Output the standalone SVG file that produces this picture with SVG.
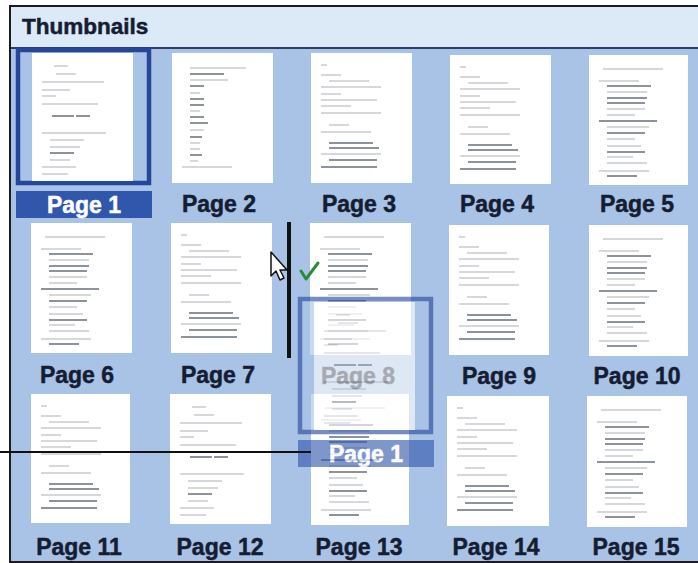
<svg xmlns="http://www.w3.org/2000/svg" width="698" height="563" viewBox="0 0 698 563">
<style>
.lbl{font-family:"Liberation Sans",Arial,sans-serif;font-weight:bold;font-size:23px;fill:#151d33;stroke:#151d33;stroke-width:0.5;text-anchor:middle}
.pg{fill:#ffffff}
.l{fill:none;stroke:#c9ccd1;stroke-width:1.3}
.d{fill:none;stroke:#8d939c;stroke-width:2}
</style>
<defs>
<g id="cA">
<path class="l" d="M22 13h14M24 21h20M10 29h62M10 37h28M10 43h14M10 51h56M10 80h64M18 87h34M18 94h30M18 107h20M10 114h34M10 121h26"/>
<path class="d" d="M20 63h22M44 63h14M18 100h24"/>
</g>
<g id="cB">
<path class="l" d="M18 15h56M18 27h38M18 40h10M18 58h10M18 77h14M18 90h10M18 96h10M18 108h8M10 114h50"/>
<path class="d" d="M18 21h34M18 33h14M18 46h14M18 52h14M18 64h14M18 70h18M18 84h12M18 102h12"/>
</g>
<g id="cC">
<path class="l" d="M14 14h60M10 26h40M18 37h40M18 54h38M18 60h28M18 72h42M18 84h28M18 91h34M18 102h26M18 108h40M10 116h50"/>
<path class="d" d="M18 31h44M18 43h40M18 48h38M10 66h58M18 78h38M18 97h38M18 121h30"/>
</g>
<g id="cD">
<path class="l" d="M10 12h6M10 22h20M18 28h40M10 34h60M10 41h20M10 47h56M10 53h30M10 60h60M18 72h20M10 79h50M10 101h60"/>
<path class="d" d="M18 90h44M18 95h50M18 107h48M10 114h56"/>
</g>
</defs>
<rect width="698" height="563" fill="#ffffff"/>
<rect x="10" y="6" width="700" height="556" fill="#a9c3e7" stroke="#1c1c1c" stroke-width="2"/>
<rect x="11" y="7" width="690" height="41" fill="#dce9f6"/>
<line x1="11" y1="48" x2="698" y2="48" stroke="#2b3e6b" stroke-width="2"/>
<text x="22" y="34" class="lbl" style="text-anchor:start;font-size:22.5px">Thumbnails</text>

<g id="page-1">
<rect x="18" y="50" width="131" height="133" fill="#a9c3e7" stroke="#26469a" stroke-width="4.5"/>
<rect x="32" y="53" width="101" height="128" class="pg"/>
<use href="#cA" x="32" y="53"/>
<rect x="16" y="191" width="136" height="27" fill="#3157ac"/>
<text x="84" y="213" class="lbl" style="fill:#ffffff;stroke:#ffffff">Page 1</text>
</g>
<g id="page-2"><rect x="172" y="53" width="101" height="130" class="pg"/><use href="#cB" x="172" y="53"/><text x="219" y="212" class="lbl">Page 2</text></g>
<g id="page-3"><rect x="311" y="53" width="101" height="130" class="pg"/><use href="#cD" x="311" y="53"/><text x="359" y="212" class="lbl">Page 3</text></g>
<g id="page-4"><rect x="450" y="55" width="101" height="129" class="pg"/><use href="#cD" x="450" y="55"/><text x="497" y="212" class="lbl">Page 4</text></g>
<g id="page-5"><rect x="589" y="55" width="99" height="130" class="pg"/><use href="#cC" x="589" y="55"/><text x="637" y="212" class="lbl">Page 5</text></g>

<g id="page-6"><rect x="31" y="223" width="101" height="130" class="pg"/><use href="#cC" x="31" y="223"/><text x="77" y="383" class="lbl">Page 6</text></g>
<g id="page-7"><rect x="171" y="223" width="101" height="130" class="pg"/><use href="#cD" x="171" y="223"/><text x="218" y="383" class="lbl">Page 7</text></g>
<g id="page-8"><rect x="310" y="223" width="101" height="132" class="pg"/><use href="#cC" x="310" y="223"/><text x="358" y="384" class="lbl">Page 8</text></g>
<g id="page-9"><rect x="449" y="225" width="100" height="130" class="pg"/><use href="#cD" x="449" y="225"/><text x="499" y="384" class="lbl">Page 9</text></g>
<g id="page-10"><rect x="589" y="225" width="99" height="131" class="pg"/><use href="#cC" x="589" y="225"/><text x="637" y="384" class="lbl">Page 10</text></g>

<g id="page-11"><rect x="31" y="394" width="99" height="129" class="pg"/><use href="#cD" x="31" y="394"/><text x="79" y="555" class="lbl">Page 11</text></g>
<g id="page-12"><rect x="170" y="394" width="101" height="130" class="pg"/><use href="#cA" x="170" y="394"/><text x="220" y="555" class="lbl">Page 12</text></g>
<g id="page-13"><rect x="311" y="394" width="98" height="131" class="pg"/><use href="#cC" x="311" y="394"/><text x="359" y="555" class="lbl">Page 13</text></g>
<g id="page-14"><rect x="447" y="396" width="102" height="130" class="pg"/><use href="#cD" x="447" y="396"/><text x="496" y="555" class="lbl">Page 14</text></g>
<g id="page-15"><rect x="587" y="396" width="100" height="131" class="pg"/><use href="#cC" x="587" y="396"/><text x="636" y="555" class="lbl">Page 15</text></g>

<g id="drag-ghost" opacity="0.62">
<use href="#page-1" transform="translate(282,249)"/>
</g>

<g id="connectors">
<line x1="289" y1="222" x2="289" y2="358" stroke="#111111" stroke-width="4"/>
<line x1="0" y1="452" x2="311" y2="452" stroke="#111111" stroke-width="2"/>
</g>

<g id="cursor">
<path d="M271 252 L271 276 L276 271 L280 280 L284 278 L280 270 L287 270 Z" fill="#ffffff" stroke="#111111" stroke-width="1.5" stroke-linejoin="round"/>
</g>
<g id="check">
<polyline points="301,271 306,279 318,263" fill="none" stroke="#2a8a3c" stroke-width="3" stroke-linecap="round" stroke-linejoin="round"/>
</g>
</svg>
